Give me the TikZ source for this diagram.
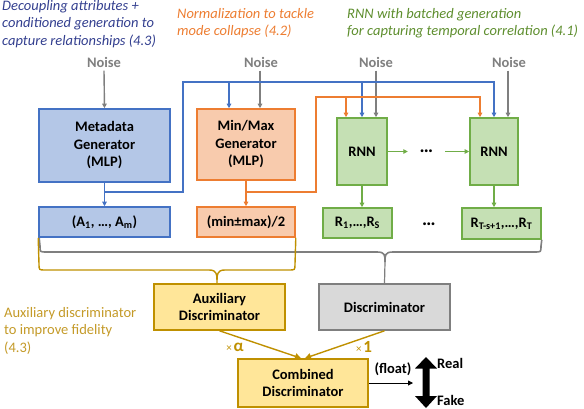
\documentclass[tikz,border=0pt]{standalone}
\usepackage{fontspec}
\setmainfont{Carlito}
\usetikzlibrary{arrows.meta}
\definecolor{cblue}{HTML}{4472C4}
\definecolor{fblue}{HTML}{B4C7E7}
\definecolor{corange}{HTML}{ED7D31}
\definecolor{forange}{HTML}{F8CBAD}
\definecolor{cgreen}{HTML}{70AD47}
\definecolor{fgreen}{HTML}{C5E0B4}
\definecolor{cgold}{HTML}{BF9000}
\definecolor{fgold}{HTML}{FFE699}
\definecolor{cgray}{HTML}{7F7F7F}
\definecolor{fgray}{HTML}{D9D9D9}
\definecolor{tblue}{HTML}{333F8F}
\definecolor{tgreen}{HTML}{5E8E2E}
\definecolor{tgold}{RGB}{196,154,40}
\newcommand\bxfont{\fontsize{14.5}{17.5}\selectfont\bfseries}
\newcommand\itfont{\fontsize{14.5}{17.5}\selectfont\itshape}
\begin{document}
\begin{tikzpicture}[x=1pt,y=-1pt,
  bbox/.style={draw, line width=1.6pt, inner sep=0pt, align=center, font=\bxfont},
  noise/.style={font=\bxfont, text=cgray},
  note/.style={anchor=west, align=left, inner sep=0pt, font=\itfont},
  tip/.style={-{Triangle[length=4.5pt,width=4.5pt]}},
  wire/.style={line width=1.4pt}
]
\useasboundingbox (0,0) rectangle (584,408);

% annotations
\node[note, text=tblue] (n_dec) at (2,24) {Decoupling attributes +\\conditioned generation to\\capture relationships (4.3)};
\node[note, text=corange] (n_norm) at (177,23) {Normalization to tackle\\mode collapse (4.2)};
\node[note, text=tgreen] (n_rnn) at (347,23) {RNN with batched generation\\for capturing temporal correlation (4.1)};
\node[note, text=tgold, font=\fontsize{14.5}{17.5}\selectfont] (n_aux) at (4,330.5) {Auxiliary discriminator\\to improve fidelity\\(4.3)};

% noise
\node[noise] (n1) at (104,62) {Noise};
\node[noise] (n2) at (261,62) {Noise};
\node[noise] (n3) at (376,62) {Noise};
\node[noise] (n4) at (509,62) {Noise};

% boxes
\node[bbox, draw=cblue, fill=fblue, minimum width=131pt, minimum height=73pt] (meta) at (104.5,145.5) {Metadata\\Generator\\(MLP)};
\node[bbox, draw=cblue, fill=fblue, minimum width=131pt, minimum height=30pt] (A) at (104.5,222) {(A\textsubscript{1}, …, A\textsubscript{m})};
\node[bbox, draw=corange, fill=forange, minimum width=98pt, minimum height=71pt] (mm) at (246,144.5) {Min/Max\\Generator\\(MLP)};
\node[bbox, draw=corange, fill=forange, minimum width=98pt, minimum height=30pt] (mmout) at (246,222) {(min±max)/2};
\node[bbox, draw=cgreen, fill=fgreen, minimum width=50pt, minimum height=67pt] (rnn1) at (362,151.5) {RNN};
\node[bbox, draw=cgreen, fill=fgreen, minimum width=48pt, minimum height=67pt] (rnn2) at (494,151.5) {RNN};
\node[bbox, draw=cgreen, fill=fgreen, minimum width=69pt, minimum height=30pt] (r1) at (357.5,223) {R\textsubscript{1},…,R\textsubscript{S}};
\node[bbox, draw=cgreen, fill=fgreen, minimum width=79pt, minimum height=31pt] (r2) at (501.5,223.5) {R\textsubscript{T-s+1},…,R\textsubscript{T}};
\node[font=\fontsize{19}{20}\selectfont\bfseries, minimum width=37pt, inner sep=0pt] (e1) at (426.5,151) {…};
\node[font=\fontsize{19}{20}\selectfont\bfseries, inner sep=0pt] (e2) at (429,224) {…};
\node[bbox, draw=cgold, fill=fgold, minimum width=131pt, minimum height=46pt] (aux) at (219.5,307) {Auxiliary\\Discriminator};
\node[bbox, draw=cgray, fill=fgray, minimum width=131pt, minimum height=46pt] (disc) at (384.5,307) {Discriminator};
\node[bbox, draw=cgold, fill=fgold, minimum width=130pt, minimum height=48pt] (comb) at (303,383) {Combined\\Discriminator};

% noise arrows
\draw[wire, cgray, tip] (n1.south) -- (meta.north);
\draw[wire, cgray, tip] ([xshift=-1pt]n2.south) -- ([xshift=-1pt]n2.south |- mm.north);
\draw[wire, cgray, tip] (n3.south) -- (n3.south |- rnn1.north);
\draw[wire, cgray, tip] ([xshift=-1pt]n4.south) -- ([xshift=-1pt]n4.south |- rnn2.north);

% blue wires
\coordinate (bj) at (104.5,192);
\coordinate (bl2) at (229,82);
\coordinate (bl3) at (362,82);
\draw[wire, cblue, tip] (meta.south) -- (A.north);
\draw[wire, cblue, tip] (bj) -| (183,82) -| (rnn2.north);
\draw[wire, cblue, tip] (bl2) -- (bl2 |- mm.north);
\draw[wire, cblue, tip] (bl3) -- (rnn1.north);

% orange wires
\coordinate (oj) at (246,192);
\coordinate (ol3) at (346,97);
\draw[wire, corange, tip] (mm.south) -- (mmout.north);
\draw[wire, corange, tip] (oj) -| (316,97) -| ([xshift=-14pt]rnn2.north);
\draw[wire, corange, tip] (ol3) -- (ol3 |- rnn1.north);

% green
\draw[line width=1.1pt, cgreen, tip] (rnn1.south) -- (rnn1.south |- r1.north);
\draw[line width=1.1pt, cgreen, tip] (rnn2.south) -- (rnn2.south |- r2.north);
\draw[line width=1pt, cgreen, tip] (rnn1.east) -- (rnn1.east -| e1.west);
\draw[line width=1pt, cgreen, tip] (rnn2.west -| e1.east) -- (rnn2.west);

% gray brace
\coordinate (gtip) at (385,262);
\draw[line width=1.6pt, cgray] ([xshift=1pt]A.south west) -- (40,246) .. controls (40,252) .. (46,252) -- (377,252)
  .. controls (385,252) and (385,255) .. (gtip)
  .. controls (385,255) and (385,252) .. (393,252) -- (535,252) .. controls (541,252) .. (541,246) -- (r2.south east);
\draw[line width=1.2pt, cgray] (gtip) -- (disc.north);

% gold brace
\draw[line width=1.4pt, cgold] (A.south west) -- (39,264) .. controls (39,270) .. (45,270) -- (209,270)
  .. controls (217,270) and (217,274) .. (217,284)
  .. controls (217,274) and (217,270) .. (225,270) -- (289,270) .. controls (295,270) .. (295,264) -- (mmout.south east);

% gold lines to combined
\draw[wire, cgold, -{Triangle[length=6pt,width=6pt]}] (aux.south) -- ([xshift=-2pt]comb.north);
\draw[wire, cgold, -{Triangle[length=6pt,width=6pt]}] (disc.south) -- ([xshift=2pt]comb.north);
\node[text=cgold, inner sep=0pt] (la) at (235,347) {{\fontsize{11}{12}\selectfont ×}\,{\fontsize{17}{18}\selectfont\bfseries α}};
\node[text=cgold, inner sep=0pt] (l1) at (364,347) {{\fontsize{11}{12}\selectfont ×}\,{\fontsize{17}{18}\selectfont\bfseries 1}};

% output
\coordinate (fltip) at (413,383);
\draw[line width=0.9pt, -{Triangle[length=5pt,width=5pt]}] (comb.east) -- (fltip);
\node[font=\bxfont, inner sep=0pt] (flt) at (393,369) {(float)};
\fill (426,357) -- (437,368.5) -- (429.5,368.5) -- (429.5,396) -- (437,396) -- (426,408) -- (415,396) -- (422.5,396) -- (422.5,368.5) -- (415,368.5) -- cycle;
\node[font=\bxfont, anchor=west, inner sep=0pt] (real) at (437,363) {Real};
\node[font=\bxfont, anchor=west, inner sep=0pt] (fake) at (437,400) {Fake};
\end{tikzpicture}
\end{document}
